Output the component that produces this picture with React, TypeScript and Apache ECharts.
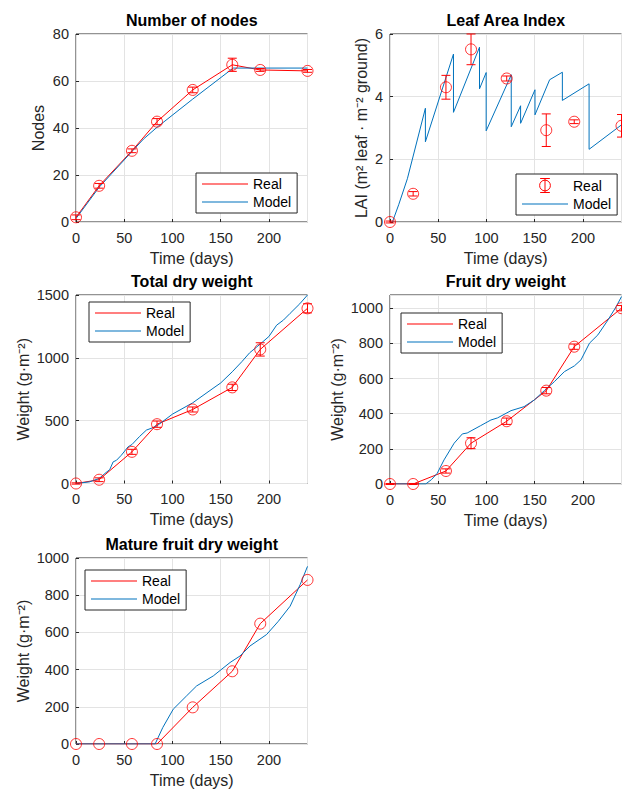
import React, { useEffect, useRef } from "react";
import * as echarts from "echarts";

// ---------- data ----------
const days = [0, 24, 58, 84, 121, 162, 191, 240];

const nodesReal = [2.0, 15.4, 30.3, 42.7, 56.2, 66.9, 64.7, 64.3];
const nodesErr = [1.0, 1.0, 0.8, 1.3, 1.2, 2.8, 0.6, 0.6];
const nodesModelT = [0, 24, 58, 70, 84, 121, 163, 240];
const nodesModelV = [1.5, 14.8, 30.0, 35.3, 40.3, 52.3, 65.5, 65.5];

const laiReal = [0, 0.9, 4.3, 5.51, 4.58, 2.93, 3.2, 3.07];
const laiErr = [0.03, 0.07, 0.38, 0.49, 0.08, 0.52, 0.06, 0.36];
const laiModelT = [2.5, 9, 18, 36.7, 36.7, 65.8, 65.8, 92.8, 92.8, 99.7, 99.7, 125.7, 125.7, 135.4, 135.4, 150.3, 150.3, 165.5, 178.7, 178.7, 206.4, 206.4, 240];
const laiModelV = [0, 0.55, 1.38, 3.63, 2.56, 5.36, 3.5, 5.58, 4.25, 4.77, 2.91, 4.7, 3.04, 3.71, 3.15, 4.22, 3.42, 4.54, 4.78, 3.88, 4.41, 2.32, 3.1];

const tdwReal = [0, 30, 252, 472, 589, 765, 1067, 1394];
const tdwErr = [5, 15, 20, 25, 20, 25, 53, 36];
const tdwModelT = [0, 14, 24, 30, 35, 38.5, 42, 47, 54, 58, 66, 73, 80, 85, 100, 121, 142, 150, 162, 172, 180, 191, 200, 208, 215, 222, 232, 240];
const tdwModelV = [0, 13, 40, 80, 111, 172, 185, 225, 292, 310, 375, 425, 445, 465, 552, 642, 757, 800, 889, 970, 1040, 1110, 1170, 1260, 1300, 1354, 1430, 1500];

const fdwReal = [0, 0, 74, 232, 357, 531, 781, 1000];
const fdwErr = [3, 3, 12, 31, 18, 18, 15, 15];
const fdwModelT = [0, 37, 43, 49, 56, 66.5, 75, 80, 94, 104.6, 111.5, 125.4, 139, 149.6, 160, 170.4, 180.8, 191.2, 198, 206.8, 215.5, 226, 234.5, 240];
const fdwModelV = [0, 0, 25, 61, 137, 232, 285, 290, 332, 364, 376, 417, 440, 478, 531, 582, 639, 672, 706, 801, 848, 933, 1009, 1066];

const mfwReal = [0, 0, 0, 0, 197, 391, 647, 882];
const mfwModelT = [0, 82, 90, 100.8, 114.7, 125, 142.3, 159.7, 170, 180.4, 197.7, 209.8, 222, 232.4, 240];
const mfwModelV = [0, 0, 89, 187, 259, 312, 366, 438, 473, 527, 589, 660, 741, 857, 955];

const titles = ["Number of nodes", "Leaf Area Index", "Total dry weight", "Fruit dry weight", "Mature fruit dry weight"];
const yNames = ["Nodes", "LAI (m² leaf · m⁻² ground)", "Weight (g·m⁻²)", "Weight (g·m⁻²)", "Weight (g·m⁻²)"];
const yMaxes = [80, 6, 1500, 1075, 1000];
const yIntervals = [20, 2, 500, 200, 200];
const xName = "Time (days)";
const legendNames = ["Real", "Model"];

// ---------- styles ----------
const RED = "#ff0000";
const BLUE = "#0072bd";
const INK = "#262626";
const GRID = "#e3e3e3";
const FONT = '"Liberation Sans", Arial, Helvetica, sans-serif';

type Panel = {
  real: number[];
  err: number[] | null;
  modelT: number[];
  modelV: number[];
  realLine: boolean;
  grid: { left: number; top: number; width: number; height: number };
  legend: { left: number; top: number };
  nameGap: number;
};

const panels: Panel[] = [
  { real: nodesReal, err: nodesErr, modelT: nodesModelT, modelV: nodesModelV, realLine: true,
    grid: { left: 76, top: 34, width: 231.5, height: 188 }, legend: { left: 196, top: 173 }, nameGap: 30 },
  { real: laiReal, err: laiErr, modelT: laiModelT, modelV: laiModelV, realLine: false,
    grid: { left: 390, top: 34, width: 231.5, height: 188 }, legend: { left: 516, top: 174 }, nameGap: 21 },
  { real: tdwReal, err: tdwErr, modelT: tdwModelT, modelV: tdwModelV, realLine: true,
    grid: { left: 76, top: 295, width: 231.5, height: 188.5 }, legend: { left: 89, top: 302 }, nameGap: 45 },
  { real: fdwReal, err: fdwErr, modelT: fdwModelT, modelV: fdwModelV, realLine: true,
    grid: { left: 390, top: 295, width: 231.5, height: 189 }, legend: { left: 401, top: 313 }, nameGap: 45 },
  { real: mfwReal, err: null, modelT: mfwModelT, modelV: mfwModelV, realLine: true,
    grid: { left: 76, top: 558, width: 231.5, height: 187 }, legend: { left: 85, top: 570 }, nameGap: 45 },
];

const ERRBAR_ICON =
  "path://M18.5 0.5 L27.5 0.5 M23 0.5 L23 13.5 M18.5 13.5 L27.5 13.5 M28 7 A5 5 0 1 1 18 7 A5 5 0 1 1 28 7 Z";
const LINE_ICON = "path://M0 6.5 L46 6.5 L46 7.5 L0 7.5 Z";

function buildOption() {
  const grid: any[] = [];
  const xAxis: any[] = [];
  const yAxis: any[] = [];
  const series: any[] = [];
  const legend: any[] = [];
  const graphic: any[] = [];

  panels.forEach((p, i) => {
    grid.push({ ...p.grid, show: true, borderColor: INK, borderWidth: 1, backgroundColor: "transparent" });
    const axisCommon = {
      type: "value",
      gridIndex: i,
      min: 0,
      axisLine: { show: false },
      axisTick: { show: true, inside: true, length: 3, lineStyle: { color: INK, width: 1 } },
      splitLine: { show: true, lineStyle: { color: GRID, width: 1 } },
      nameLocation: "middle",
      nameTextStyle: { color: INK, fontSize: 16, fontFamily: FONT },
    };
    xAxis.push({
      ...axisCommon,
      max: 240,
      interval: 50,
      name: xName,
      nameGap: 28,
      axisLabel: { color: INK, fontSize: 14.5, fontFamily: FONT, margin: 8, showMaxLabel: false, formatter: (v: number) => String(v) },
    });
    yAxis.push({
      ...axisCommon,
      max: yMaxes[i],
      interval: yIntervals[i],
      name: yNames[i],
      nameGap: p.nameGap,
      axisLabel: {
        color: INK, fontSize: 14.5, fontFamily: FONT, margin: 7,
        showMaxLabel: yMaxes[i] % yIntervals[i] === 0,
        formatter: (v: number) => String(v),
      },
    });

    const realPts = days.map((d, k) => [d, p.real[k]]);
    if (p.realLine) {
      series.push({
        type: "line", name: "Real", xAxisIndex: i, yAxisIndex: i, data: realPts,
        symbol: "none", showSymbol: false, lineStyle: { color: RED, width: 1 }, itemStyle: { color: RED },
        silent: true, z: 2,
      });
    }
    series.push({
      type: "line", name: "Model", xAxisIndex: i, yAxisIndex: i,
      data: p.modelT.map((t, k) => [t, p.modelV[k]]),
      symbol: "none", showSymbol: false, lineStyle: { color: BLUE, width: 1 }, itemStyle: { color: BLUE },
      silent: true, z: 3,
    });
    series.push({
      type: "scatter", name: "Real" + (p.realLine ? " pts" : ""), xAxisIndex: i, yAxisIndex: i, data: realPts,
      symbol: "circle", symbolSize: 11, clip: false,
      itemStyle: { color: "rgba(0,0,0,0)", borderColor: RED, borderWidth: 1 },
      silent: true, z: 4,
    });
    if (p.err) {
      const err = p.err;
      series.push({
        type: "custom", name: "err" + i, xAxisIndex: i, yAxisIndex: i,
        data: days.map((d, k) => [d, p.real[k], err[k]]),
        encode: { x: 0, y: 1 },
        silent: true, z: 4,
        renderItem: (_params: any, api: any) => {
          const x = api.value(0), y = api.value(1), e = api.value(2);
          const top = api.coord([x, y + e]);
          const bot = api.coord([x, y - e]);
          const hw = 4.5;
          const st = { stroke: RED, lineWidth: 1 };
          return {
            type: "group",
            children: [
              { type: "line", shape: { x1: top[0], y1: top[1], x2: bot[0], y2: bot[1] }, style: st },
              { type: "line", shape: { x1: top[0] - hw, y1: top[1], x2: top[0] + hw, y2: top[1] }, style: st },
              { type: "line", shape: { x1: bot[0] - hw, y1: bot[1], x2: bot[0] + hw, y2: bot[1] }, style: st },
            ],
          };
        },
      });
    }

    const modelItem = { name: legendNames[1], icon: LINE_ICON, itemStyle: { color: BLUE, borderWidth: 0 } };
    const legendData: any[] = p.realLine
      ? [{ name: legendNames[0], icon: LINE_ICON, itemStyle: { color: RED, borderWidth: 0 } }, modelItem]
      : [
          { name: legendNames[0], icon: ERRBAR_ICON, itemStyle: { color: "rgba(0,0,0,0)", borderColor: RED, borderWidth: 1 } },
          modelItem,
        ];
    legend.push({
      ...p.legend,
      orient: "vertical",
      data: legendData,
      selectedMode: false,
      backgroundColor: "#ffffff",
      borderColor: INK,
      borderWidth: 1,
      borderRadius: 0,
      padding: [4, 6, 4, 6],
      itemGap: 4,
      itemWidth: 46,
      itemHeight: 14,
      textStyle: { color: "#000", fontSize: 14, fontFamily: FONT },
      z: 10,
    });

    graphic.push({
      type: "text",
      x: p.grid.left + p.grid.width / 2,
      y: p.grid.top - 13.5,
      style: {
        text: titles[i],
        fill: "#000",
        fontSize: 16,
        fontWeight: "bold",
        fontFamily: FONT,
        align: "center",
        verticalAlign: "middle",
      },
    });
  });

  return { animation: false, backgroundColor: "#ffffff", grid, xAxis, yAxis, series, legend, graphic };
}

export default function App() {
  const ref = useRef<HTMLDivElement>(null);
  useEffect(() => {
    if (!ref.current) return;
    const chart = echarts.init(ref.current, undefined, { renderer: "svg" });
    chart.setOption(buildOption() as any);
    return () => chart.dispose();
  }, []);
  return (
    <div
      ref={ref}
      style={{ position: "absolute", left: 0, top: 0, width: 622, height: 789, background: "#fff" }}
    />
  );
}
